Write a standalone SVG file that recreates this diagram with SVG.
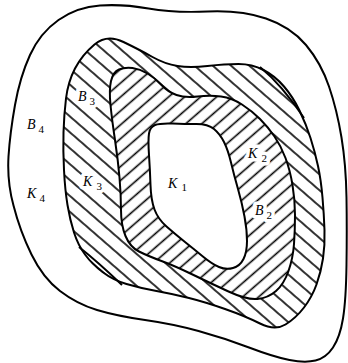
<svg xmlns="http://www.w3.org/2000/svg" width="348" height="363" viewBox="0 0 348 363">
<style>
.b{stroke:#000;stroke-width:2;stroke-linejoin:round}
.lab{font-family:"Liberation Serif","DejaVu Serif",serif;font-style:italic;font-size:14px;fill:#000;stroke:#fff;stroke-width:7;stroke-linejoin:round;paint-order:stroke}
.sub{font-style:normal;font-size:11px}
</style>
<defs>
<pattern id="hb" width="12" height="12" patternUnits="userSpaceOnUse" patternTransform="rotate(-49)">
<line x1="6" y1="-1" x2="6" y2="13" stroke="#000" stroke-width="1.6"/>
</pattern>
<pattern id="hf" width="10.5" height="10.5" patternUnits="userSpaceOnUse" patternTransform="rotate(49)">
<line x1="5.25" y1="-1" x2="5.25" y2="12" stroke="#000" stroke-width="1.6"/>
</pattern>
</defs>
<rect width="348" height="363" fill="#fff"/>
<g id="K4">
<path class="b" fill="#fff" d="M 148.5,8.5 Q 174,13 207.5,11.5 Q 241,10 266,18.5 Q 291,27 306,45 Q 321,63 329,86.5 Q 337,110 341.5,137.5 Q 346,165 346.5,197.5 Q 347,230 346.5,265 Q 346,300 343,318.5 Q 340,337 333,347.5 Q 326,358 315.5,360.5 Q 305,363 289.5,360 Q 274,357 249,347.5 Q 224,338 198.5,331 Q 173,324 145,320 Q 117,316 97,310 Q 77,304 60,291 Q 43,278 31.5,254.5 Q 20,231 13.5,205.5 Q 7,182 8.5,156.5 Q 10,133 15,105 Q 20,77 30,55 Q 40,33 58.5,20 Q 77,7 100,5.5 Q 123,4 148.5,8.5 Z"/>
</g>
<g id="B3">
<path class="b" fill="url(#hb)" d="M 123.5,42 Q 140,50 152.5,57 Q 165,64 177.5,66 Q 190,68 207.5,66 Q 225,64 238.5,64 Q 252,64 263.5,70 Q 275,76 284,86.5 Q 293,97 299.5,110.5 Q 306,124 310.5,138 Q 315,152 318,166 Q 321,180 322.5,197.5 Q 324,215 324.5,230 Q 325,245 323,258.5 Q 321,272 316.5,284.5 Q 312,297 304,307.5 Q 296,318 285.5,324.5 Q 275,331 260,323.5 Q 245,316 225,309 Q 205,302 189,298 Q 173,294 156.5,291 Q 140,288 126.5,284 Q 113,280 102.5,272 Q 92,264 85,254.5 Q 78,245 74,232.5 Q 70,220 67.5,205 Q 65,190 64,170 Q 63,150 63.5,132.5 Q 64,115 66,98.5 Q 68,82 75,68.5 Q 82,55 94.5,44.5 Q 107,34 123.5,42 Z"/>
<path class="b" fill="none" d="M 260,67 Q 282,85 304,118"/>
<path class="b" fill="none" d="M 79,247 Q 98,262 122,285"/>
</g>
<g id="B2">
<path fill="#fff" d="M 132.5,68 Q 140,69 147.5,73.5 Q 155,78 161.5,85 Q 168,92 176.5,95 Q 185,98 197.5,96.5 Q 210,95 221,96.5 Q 232,98 242,104.5 Q 252,111 260,119 Q 268,127 274.5,136.5 Q 281,146 285.5,158 Q 290,170 292.5,185 Q 295,200 295,215 Q 295,230 294,244 Q 293,258 288.5,271 Q 284,284 276,291 Q 268,298 257.5,299 Q 247,300 228.5,291.5 Q 210,283 192.5,274.5 Q 175,266 161.5,261 Q 148,256 139,251.5 Q 130,247 125.5,236 Q 121,225 121,210 Q 121,195 119.5,177.5 Q 118,160 115,140 Q 112,120 110.5,105 Q 109,90 111,81 Q 113,72 119,69.5 Q 125,67 132.5,68 Z"/>
<path class="b" fill="url(#hf)" d="M 132.5,68 Q 140,69 147.5,73.5 Q 155,78 161.5,85 Q 168,92 176.5,95 Q 185,98 197.5,96.5 Q 210,95 221,96.5 Q 232,98 242,104.5 Q 252,111 260,119 Q 268,127 274.5,136.5 Q 281,146 285.5,158 Q 290,170 292.5,185 Q 295,200 295,215 Q 295,230 294,244 Q 293,258 288.5,271 Q 284,284 276,291 Q 268,298 257.5,299 Q 247,300 228.5,291.5 Q 210,283 192.5,274.5 Q 175,266 161.5,261 Q 148,256 139,251.5 Q 130,247 125.5,236 Q 121,225 121,210 Q 121,195 119.5,177.5 Q 118,160 115,140 Q 112,120 110.5,105 Q 109,90 111,81 Q 113,72 119,69.5 Q 125,67 132.5,68 Z"/>
</g>
<g id="K1">
<path class="b" fill="#fff" d="M 172.5,123.5 Q 185,124 196.5,124 Q 208,124 214,129 Q 220,134 224,142 Q 228,150 231,162.5 Q 234,175 238,189 Q 242,203 244.5,216.5 Q 247,230 247,241 Q 247,252 243.5,259 Q 240,266 233,268 Q 226,270 219,267 Q 212,264 203.5,257 Q 195,250 185,242 Q 175,234 166.5,226.5 Q 158,219 154.5,209.5 Q 151,200 150.5,185 Q 150,170 149,155 Q 148,140 149,133.5 Q 150,127 155,125 Q 160,123 172.5,123.5 Z"/>
</g>
<g id="labels">
<text class="lab" x="27" y="129">B<tspan class="sub" x="38.5" y="133">4</tspan></text>
<text class="lab" x="27" y="198">K<tspan class="sub" x="39.5" y="202">4</tspan></text>
<text class="lab" x="78" y="101">B<tspan class="sub" x="89.5" y="105">3</tspan></text>
<text class="lab" x="83" y="186">K<tspan class="sub" x="96.5" y="190">3</tspan></text>
<text class="lab" x="168" y="188">K<tspan class="sub" x="181.5" y="191">1</tspan></text>
<text class="lab" x="248" y="158">K<tspan class="sub" x="261.5" y="162">2</tspan></text>
<text class="lab" x="255" y="215">B<tspan class="sub" x="266.5" y="219">2</tspan></text>
</g>
</svg>
